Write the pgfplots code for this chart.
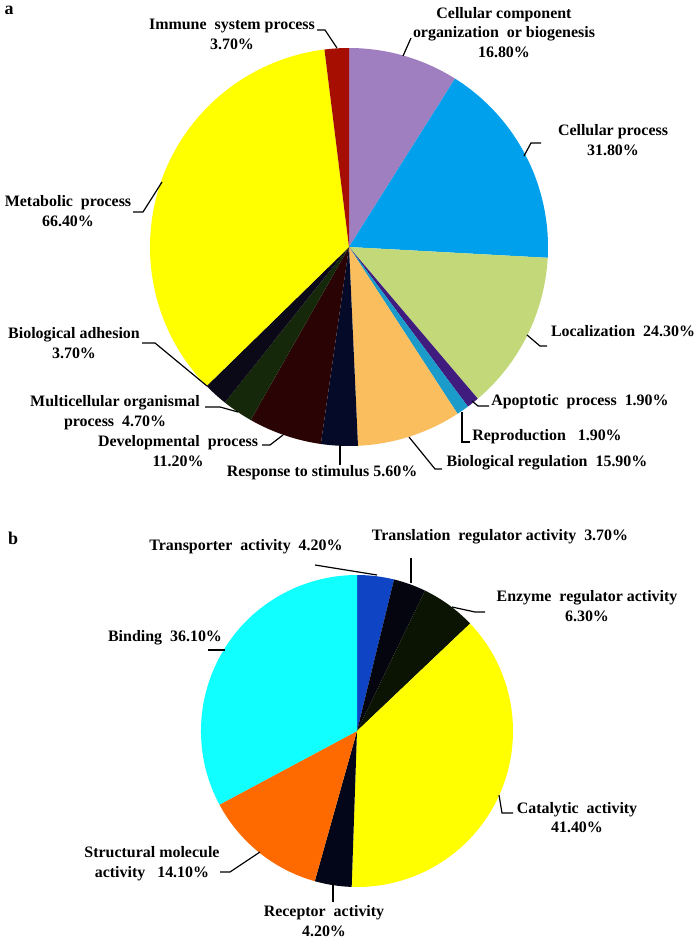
\documentclass[border=0pt]{standalone}
\usepackage{pgfplots}
\usepackage{pgfplotstable}
\pgfplotsset{compat=1.18}
\usepackage{fontspec}
\setmainfont{Liberation Serif}

% panel a colours
\definecolor{cellcomp}{HTML}{A07FC0}
\definecolor{cellproc}{HTML}{00A0EC}
\definecolor{local}{HTML}{C3D879}
\definecolor{apopt}{HTML}{3F1C7E}
\definecolor{repro}{HTML}{1A9BC9}
\definecolor{bioreg}{HTML}{FBBE5E}
\definecolor{response}{HTML}{050A28}
\definecolor{devel}{HTML}{2A0404}
\definecolor{multi}{HTML}{15280A}
\definecolor{adhes}{HTML}{0B0818}
\definecolor{metab}{HTML}{FFFF00}
\definecolor{immune}{HTML}{A50E00}
% panel b colours
\definecolor{transp}{HTML}{0F45C4}
\definecolor{transl}{HTML}{050510}
\definecolor{enzyme}{HTML}{0B1403}
\definecolor{catal}{HTML}{FFFF00}
\definecolor{recept}{HTML}{020618}
\definecolor{struct}{HTML}{FF6A00}
\definecolor{binding}{HTML}{10FFFF}

% slices clockwise from 12 o'clock
\pgfplotstableread{
value color
16.8 cellcomp
31.8 cellproc
24.3 local
1.9  apopt
1.9  repro
15.9 bioreg
5.6  response
11.2 devel
4.7  multi
3.7  adhes
66.4 metab
3.7  immune
}\pieA

\pgfplotstableread{
value color
4.2  transp
3.7  transl
6.3  enzyme
41.4 catal
4.2  recept
14.1 struct
36.1 binding
}\pieB

% #1 table, #2 radius (bp)
\newcommand\drawpie[2]{%
  \pgfplotstablegetrowsof{#1}%
  \pgfmathtruncatemacro\lastrow{\pgfplotsretval-1}%
  \def\piesum{0}%
  \pgfplotsforeachungrouped \i in {0,...,\lastrow}{%
    \pgfplotstablegetelem{\i}{value}\of{#1}%
    \pgfmathsetmacro\piesum{\piesum+\pgfplotsretval}}%
  \def\cum{0}%
  \pgfplotsforeachungrouped \i in {0,...,\lastrow}{%
    \pgfplotstablegetelem{\i}{value}\of{#1}\let\val\pgfplotsretval
    \pgfplotstablegetelem{\i}{color}\of{#1}\let\col\pgfplotsretval
    \pgfmathsetmacro\aone{\cum/\piesum*360}%
    \pgfmathsetmacro\cum{\cum+\val}%
    \pgfmathsetmacro\atwo{\cum/\piesum*360}%
    \pgfmathsetmacro\sx{sin(\aone)}\pgfmathsetmacro\sy{cos(\aone)}%
    \pgfmathsetmacro\sa{90-\aone}\pgfmathsetmacro\ea{90-\atwo}%
    \edef\piewedge{\noexpand\fill[\col] (axis cs:0,0) -- (axis cs:\sx,\sy)
      arc[start angle=\sa, end angle=\ea, radius=#2bp] -- cycle;}%
    \piewedge
  }%
}

\pgfplotsset{pie/.style={hide axis, scale only axis, clip=false,
  width=#1, height=#1, xmin=-1, xmax=1, ymin=-1, ymax=1, anchor=origin}}

\begin{document}
\begin{tikzpicture}[lbl/.style={align=center, inner sep=0pt,
    font=\bfseries\fontsize{16}{19.5}\selectfont}]
\path[use as bounding box] (0bp,0bp) rectangle (700bp,-941bp);

\begin{axis}[pie=398bp, at={(349bp,-247bp)}]
\drawpie{\pieA}{199}
\end{axis}

\begin{axis}[pie=312bp, at={(357bp,-731bp)}]
\drawpie{\pieB}{156}
\end{axis}

\begin{scope}[x=1bp, y=-1bp, line width=1.2bp]
% panel a
\node[lbl, font=\bfseries\fontsize{18}{20}\selectfont] at (9,10) {a};
\node[lbl] at (232,34.5) {Immune\ \ system process\\3.70\%};
\node[lbl] at (504,32.5) {Cellular component\\organization\ \ or biogenesis\\16.80\%};
\node[lbl] at (613,140) {Cellular process\\31.80\%};
\node[lbl] at (623,331) {Localization\ \ 24.30\%};
\node[lbl] at (580,402) {Apoptotic\ \ process\ \ 1.90\%};
\node[lbl] at (547,437) {Reproduction\ \ \ 1.90\%};
\node[lbl] at (547,463) {Biological regulation\ \ 15.90\%};
\node[lbl] at (322,473) {Response to stimulus 5.60\%};
\node[lbl] at (178,451) {Developmental\ \ process\\11.20\%};
\node[lbl] at (115,412.5) {Multicellular organismal\\process\ \ 4.70\%};
\node[lbl] at (74,343) {Biological adhesion\\3.70\%};
\node[lbl] at (68,211) {Metabolic\ \ process\\66.40\%};
\draw (317,30) -- (325,30) -- (337,48);
\draw (411,38) -- (403,56);
\draw (541,143) -- (531,143) -- (524,156);
\draw (527,335) -- (540,346) -- (547,346);
\draw (472,401) -- (478,406) -- (489,406);
\draw (462,412) -- (462,442) -- (470,442);
\draw (409,437) -- (435,469) -- (442,469);
\draw (340,445) -- (340,465);
\draw (262,445) -- (270,445) -- (283,435);
\draw (205,407) -- (220,407) -- (238,412);
\draw (142,343) -- (155,343) -- (207,386);
\draw (133,212) -- (143,212) -- (162,182);
% panel b
\node[lbl, font=\bfseries\fontsize{18}{20}\selectfont] at (13,538) {b};
\node[lbl] at (246,547) {Transporter\ \ activity\ \ 4.20\%};
\node[lbl] at (500,537) {Translation\ \ regulator activity\ \ 3.70\%};
\node[lbl] at (587,606) {Enzyme\ \ regulator activity\\6.30\%};
\node[lbl] at (577,817.5) {Catalytic\ \ activity\\41.40\%};
\node[lbl] at (324,921) {Receptor\ \ activity\\4.20\%};
\node[lbl] at (152,863.5) {Structural molecule\\activity\ \ \ 14.10\%};
\node[lbl] at (165,638) {Binding\ \ 36.10\%};
\draw (315,565) -- (377,575);
\draw (411,558) -- (411,583);
\draw (452,607) -- (475,612) -- (485,612);
\draw (499,795) -- (502,813) -- (513,813);
\draw (333,883) -- (333,902);
\draw (220,872) -- (230,872) -- (260,852);
\draw (208,650) -- (225,650);
\end{scope}
\end{tikzpicture}
\end{document}
